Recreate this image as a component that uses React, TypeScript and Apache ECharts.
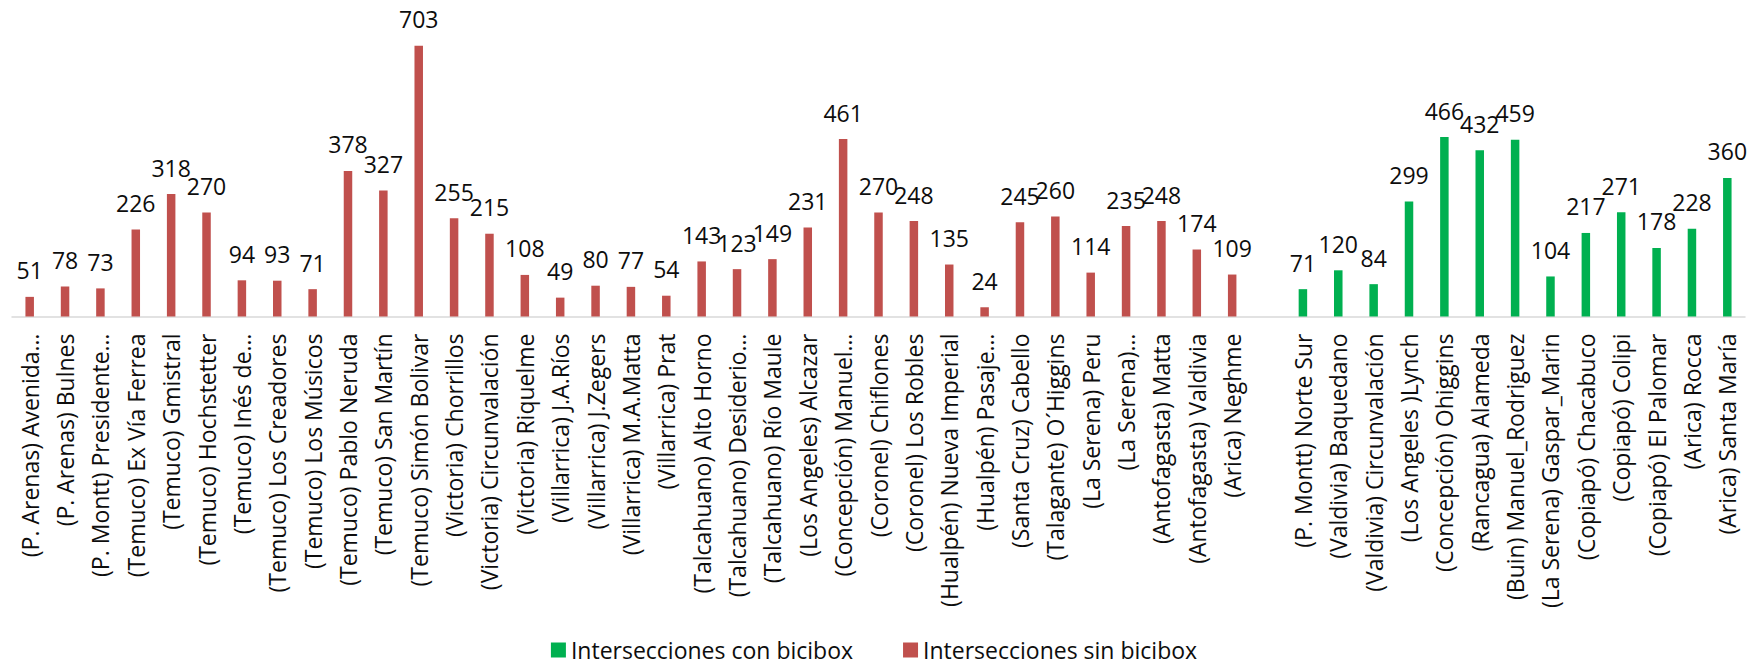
import React, { useEffect, useRef } from "react";
import * as echarts from "echarts";

const categories: string[] = [
  "(P. Arenas) Avenida…",
  "(P. Arenas) Bulnes",
  "(P. Montt) Presidente…",
  "(Temuco) Ex Vía Ferrea",
  "(Temuco) Gmistral",
  "(Temuco) Hochstetter",
  "(Temuco) Inés de…",
  "(Temuco) Los Creadores",
  "(Temuco) Los Músicos",
  "(Temuco) Pablo Neruda",
  "(Temuco) San Martín",
  "(Temuco) Simón Bolivar",
  "(Victoria) Chorrillos",
  "(Victoria) Circunvalación",
  "(Victoria) Riquelme",
  "(Villarrica) J.A.Ríos",
  "(Villarrica) J.Zegers",
  "(Villarrica) M.A.Matta",
  "(Villarrica) Prat",
  "(Talcahuano) Alto Horno",
  "(Talcahuano) Desiderio…",
  "(Talcahuano) Río Maule",
  "(Los Angeles) Alcazar",
  "(Concepción) Manuel…",
  "(Coronel) Chiflones",
  "(Coronel) Los Robles",
  "(Hualpén) Nueva Imperial",
  "(Hualpén) Pasaje…",
  "(Santa Cruz) Cabello",
  "(Talagante) O´Higgins",
  "(La Serena) Peru",
  "(La Serena)…",
  "(Antofagasta) Matta",
  "(Antofagasta) Valdivia",
  "(Arica) Neghme",
  "",
  "(P. Montt) Norte Sur",
  "(Valdivia) Baquedano",
  "(Valdivia) Circunvalación",
  "(Los Angeles )Lynch",
  "(Concepción) Ohiggins",
  "(Rancagua) Alameda",
  "(Buin) Manuel_Rodriguez",
  "(La Serena) Gaspar_Marin",
  "(Copiapó) Chacabuco",
  "(Copiapó) Colipi",
  "(Copiapó) El Palomar",
  "(Arica) Rocca",
  "(Arica) Santa María",
];

const sinBicibox: (number | null)[] = [
  51, 78, 73, 226, 318, 270, 94, 93, 71, 378, 327, 703, 255, 215, 108, 49, 80,
  77, 54, 143, 123, 149, 231, 461, 270, 248, 135, 24, 245, 260, 114, 235, 248,
  174, 109, null, null, null, null, null, null, null, null, null, null, null,
  null, null, null,
];

const conBicibox: (number | null)[] = [
  null, null, null, null, null, null, null, null, null, null, null, null, null,
  null, null, null, null, null, null, null, null, null, null, null, null, null,
  null, null, null, null, null, null, null, null, null, null, 71, 120, 84, 299,
  466, 432, 459, 104, 217, 271, 178, 228, 360,
];

const seriesNames = ["Intersecciones con bicibox", "Intersecciones sin bicibox"];

export default function App() {
  const ref = useRef<HTMLDivElement>(null);
  useEffect(() => {
    if (!ref.current) return;
    const chart = echarts.init(ref.current, null, { renderer: "svg" });
    const font = "'Open Sans', sans-serif";
    const labelStyle = {
      show: true,
      position: "top" as const,
      distance: 15,
      fontSize: 23,
      fontFamily: font,
      color: "#0d0d0d",
    };
    chart.setOption({
      animation: false,
      backgroundColor: "#ffffff",
      grid: { left: 12, right: 3, top: 8.5, bottom: 350.5, containLabel: false },
      legend: {
        data: seriesNames,
        top: 638,
        left: "center",
        padding: 0,
        itemWidth: 15,
        itemHeight: 15,
        itemGap: 50,
        icon: "rect",
        textStyle: { fontSize: 23, lineHeight: 24, fontFamily: font, color: "#0d0d0d" },
      },
      xAxis: {
        type: "category",
        data: categories,
        axisTick: { show: false },
        axisLine: { lineStyle: { color: "#d9d9d9", width: 1.5 } },
        axisLabel: {
          interval: 0,
          rotate: 90,
          margin: 17,
          fontSize: 23,
          fontFamily: font,
          color: "#0d0d0d",
        },
      },
      yAxis: {
        type: "value",
        min: 0,
        max: 800,
        show: false,
        splitLine: { show: false },
      },
      series: [
        {
          name: seriesNames[0],
          type: "bar",
          data: conBicibox,
          barWidth: 8.5,
          barGap: "-100%",
          itemStyle: { color: "#00B050" },
          label: labelStyle,
        },
        {
          name: seriesNames[1],
          type: "bar",
          data: sinBicibox,
          barWidth: 8.5,
          barGap: "-100%",
          itemStyle: { color: "#C0504D" },
          label: labelStyle,
        },
      ],
    });
    return () => chart.dispose();
  }, []);
  return (
    <div
      ref={ref}
      style={{ position: "absolute", left: 0, top: 0, width: 1748, height: 667 }}
    />
  );
}
